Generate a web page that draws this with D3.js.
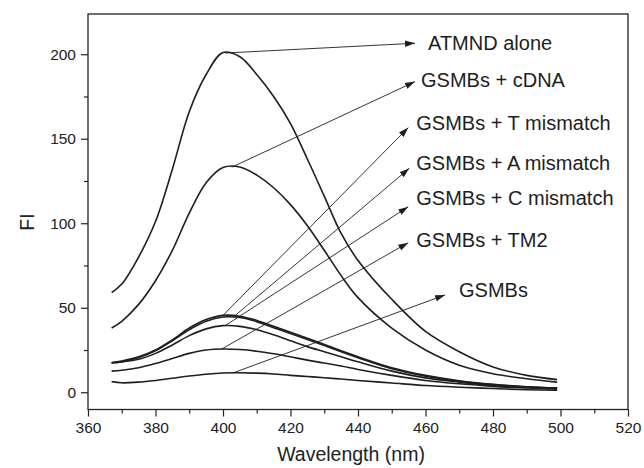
<!DOCTYPE html>
<html>
<head>
<meta charset="utf-8">
<script src="https://cdn.jsdelivr.net/npm/d3@7"></script>
<style>
  body { margin: 0; background: #fff; }
  svg { display: block; font-family: "Liberation Sans", Arial, sans-serif; }
</style>
</head>
<body>
<div id="chart"></div>
<script>
// wavelengths (nm)
const wavelengths = [367, 370, 375, 380, 385, 390, 395, 400, 405, 410, 415, 420, 425, 430, 435, 440, 450, 460, 470, 480, 490, 499];

// fluorescence intensity for each sample
const atmndAlone = [59, 64, 80, 101, 132, 166, 188, 201, 198.5, 188, 175, 159, 138, 116, 94, 78, 55, 36, 24, 15, 10, 7.5];
const gsmbCdna   = [38, 42, 52, 66, 84, 106, 124, 133, 133.3, 128.5, 121, 111, 98.5, 84, 69, 56, 38, 25, 16, 11, 8, 6];
const gsmbT      = [17.5, 18.5, 21, 25, 31, 38, 43, 45.5, 45, 42.5, 39, 35.5, 32, 28.3, 24.5, 21, 14.5, 10, 6.8, 4.7, 3.3, 2.6];
const gsmbA      = [17.5, 18, 20.5, 24.5, 30.5, 37, 42, 44.5, 44.3, 41.8, 38.2, 34.7, 31.2, 27.6, 23.9, 20.4, 13.9, 9.5, 6.5, 4.5, 3.1, 2.5];
const gsmbC      = [17.5, 18, 19.5, 23, 28, 33.5, 37.5, 39.4, 39, 37, 34, 30.5, 27, 24, 21, 18, 12.5, 8.5, 6, 4, 3, 2.5];
const gsmbTM2    = [12.5, 13, 14.5, 17, 20, 23, 25, 25.6, 25.3, 24.3, 22.8, 21, 19, 17.3, 15.5, 13.5, 10, 7, 5, 3.5, 2.5, 1.8];
const gsmbAlone  = [6.3, 5.6, 6, 7, 8.3, 9.6, 10.7, 11.4, 11.5, 11.3, 10.8, 10, 9.3, 8.6, 7.8, 7, 5.5, 4, 3, 2.2, 1.5, 1.2];

const seriesNames = ['ATMND alone', 'GSMBs + cDNA', 'GSMBs + T mismatch', 'GSMBs + A mismatch', 'GSMBs + C mismatch', 'GSMBs + TM2', 'GSMBs'];
const seriesValues = [atmndAlone, gsmbCdna, gsmbT, gsmbA, gsmbC, gsmbTM2, gsmbAlone];

// where each pointer line leaves its curve (nm) and where its arrow tip sits (nm, FI)
const anchorNm = [400.6, 402.6, 400, 403, 400.6, 399.6, 403];
const tipNm    = [456.9, 456.9, 454.9, 455.2, 454.9, 454.9, 465.8];
const tipFI    = [206.5, 183.8, 156.6, 132.5, 109.8, 88.5, 57.6];

const xTicks = [360, 380, 400, 420, 440, 460, 480, 500, 520];
const yTicks = [0, 50, 100, 150, 200];

const W = 644, H = 468;
const margin = { top: 14, right: 16, bottom: 58.5, left: 88 };
const width = W - margin.left - margin.right;
const height = H - margin.top - margin.bottom;

const svg = d3.select('#chart').append('svg')
  .attr('width', W).attr('height', H);
const g = svg.append('g')
  .attr('transform', `translate(${margin.left},${margin.top})`);

const x = d3.scaleLinear().domain([360, 520]).range([0, width]);
const y = d3.scaleLinear().domain([-10.2, 223.8]).range([height, 0]);

// frame
g.append('rect')
  .attr('width', width).attr('height', height)
  .attr('fill', 'none').attr('stroke', '#222').attr('stroke-width', 1.3);

// minor ticks
g.append('g')
  .attr('transform', `translate(0,${height})`)
  .call(d3.axisBottom(x).tickValues(d3.range(370, 520, 20)).tickSize(4).tickFormat(''))
  .call(a => a.select('.domain').remove())
  .selectAll('line').attr('stroke', '#222').attr('stroke-width', 1.2);
g.append('g')
  .call(d3.axisLeft(y).tickValues([25, 75, 125, 175]).tickSize(4).tickFormat(''))
  .call(a => a.select('.domain').remove())
  .selectAll('line').attr('stroke', '#222').attr('stroke-width', 1.2);

// major ticks and labels
const xAxis = g.append('g')
  .attr('transform', `translate(0,${height})`)
  .call(d3.axisBottom(x).tickValues(xTicks).tickSize(7).tickPadding(5))
  .call(a => a.select('.domain').remove());
xAxis.selectAll('line').attr('stroke', '#222').attr('stroke-width', 1.2);
xAxis.selectAll('text').attr('font-size', 15.5).attr('fill', '#222')
  .attr('font-family', '"Liberation Sans", Arial, sans-serif');

const yAxis = g.append('g')
  .call(d3.axisLeft(y).tickValues(yTicks).tickSize(7).tickPadding(5))
  .call(a => a.select('.domain').remove());
yAxis.selectAll('line').attr('stroke', '#222').attr('stroke-width', 1.2);
yAxis.selectAll('text').attr('font-size', 15.5).attr('fill', '#222')
  .attr('font-family', '"Liberation Sans", Arial, sans-serif');

// axis titles
svg.append('text')
  .attr('x', 351).attr('y', 461)
  .attr('text-anchor', 'middle')
  .attr('font-size', 19.5).attr('fill', '#222')
  .text('Wavelength (nm)');
svg.append('text')
  .attr('transform', 'translate(34,222) rotate(-90)')
  .attr('text-anchor', 'middle')
  .attr('font-size', 19.5).attr('fill', '#222')
  .text('FI');

// curves
const line = d3.line()
  .x(d => x(d[0]))
  .y(d => y(d[1]))
  .curve(d3.curveCatmullRom.alpha(0.5));

const plot = g.append('g');
seriesValues.forEach((vals) => {
  plot.append('path')
    .datum(wavelengths.map((w, i) => [w, vals[i]]))
    .attr('d', line)
    .attr('fill', 'none')
    .attr('stroke', '#1e1e1e')
    .attr('stroke-width', 1.6);
});

// arrow heads
svg.append('defs').append('marker')
  .attr('id', 'arrow')
  .attr('viewBox', '0 0 10 10')
  .attr('refX', 10).attr('refY', 5)
  .attr('markerWidth', 10).attr('markerHeight', 10)
  .attr('markerUnits', 'userSpaceOnUse')
  .attr('orient', 'auto')
  .append('path')
  .attr('d', 'M0,1.8 L10,5 L0,8.2 Z')
  .attr('fill', '#1e1e1e');

// value of a series at a wavelength (linear between points)
function valueAt(vals, nm) {
  const i = d3.bisectLeft(wavelengths, nm);
  if (i <= 0) return vals[0];
  const t = (nm - wavelengths[i - 1]) / (wavelengths[i] - wavelengths[i - 1]);
  return vals[i - 1] + t * (vals[i] - vals[i - 1]);
}

// label offsets from arrow tip (px)
const labelDx = [13, 6, 8, 7, 8, 8, 14];
const labelDy = [0, -1.5, -4.5, -5.5, -8.5, -2.5, -4.5];

const notes = g.append('g');
seriesNames.forEach((name, i) => {
  const x0 = x(anchorNm[i]), y0 = y(valueAt(seriesValues[i], anchorNm[i]));
  const x1 = x(tipNm[i]), y1 = y(tipFI[i]);
  notes.append('line')
    .attr('x1', x0).attr('y1', y0)
    .attr('x2', x1).attr('y2', y1)
    .attr('stroke', '#1e1e1e').attr('stroke-width', 0.9)
    .attr('marker-end', 'url(#arrow)');
  notes.append('text')
    .attr('x', x1 + labelDx[i]).attr('y', y1 + labelDy[i])
    .attr('dy', '0.35em')
    .attr('font-size', 20).attr('fill', '#1e1e1e')
    .text(name);
});
</script>
</body>
</html>
